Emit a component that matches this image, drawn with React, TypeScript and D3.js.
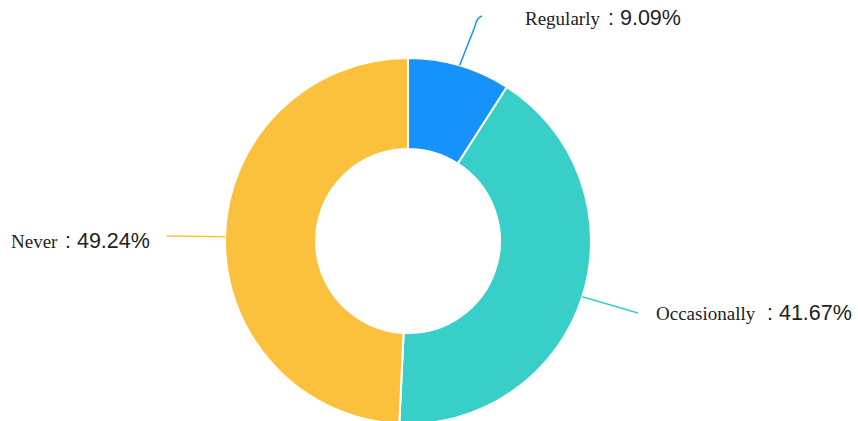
import React from "react";
import * as d3 from "d3";

const categories = ["Regularly", "Occasionally", "Never"];
const values = [9.09, 41.67, 49.24];
const colors = ["#1593FA", "#38CFC8", "#FBC13D"];
// label layout: [nameX, baselineY, colonX]
const labelPos: [number, number, number][] = [
  [525, 25, 608],
  [656, 320, 767],
  [11, 248, 65],
];
const leaderEnd: [number, number][] = [
  [482, 16],
  [638, 313],
  [167, 236],
];

const W = 858;
const H = 421;
const cx = 408;
const cy = 241;
const outerR = 183;
const innerR = 92;

export default function App() {
  const pie = d3
    .pie<number>()
    .sort(null)
    .value((d) => d);
  const arcs = pie(values);
  const arc = d3
    .arc<d3.PieArcDatum<number>>()
    .innerRadius(innerR)
    .outerRadius(outerR);

  return (
    <svg
      width={W}
      height={H}
      style={{ position: "absolute", left: 0, top: 0, background: "#fff" }}
    >
      <g transform={`translate(${cx},${cy})`}>
        {arcs.map((a, i) => (
          <path
            key={i}
            d={arc(a) || ""}
            fill={colors[i]}
            stroke="#fff"
            strokeWidth={2}
          />
        ))}
      </g>
      {arcs.map((a, i) => {
        const mid = (a.startAngle + a.endAngle) / 2;
        const sx = cx + outerR * Math.sin(mid);
        const sy = cy - outerR * Math.cos(mid);
        const [ex, ey] = leaderEnd[i];
        let d: string;
        if (i === 0) {
          const path = d3.path();
          path.moveTo(sx, sy);
          path.lineTo(sx + (ex - sx) * 0.68, sy + (ey - sy) * 0.78);
          path.quadraticCurveTo(ex - 5, ey + 1, ex, ey);
          d = path.toString();
        } else {
          d = `M${sx},${sy}L${ex},${ey}`;
        }
        return (
          <path
            key={"l" + i}
            d={d}
            fill="none"
            stroke={colors[i]}
            strokeWidth={1.5}
          />
        );
      })}
      {categories.map((c, i) => {
        const [nx, by, colonX] = labelPos[i];
        return (
          <text key={"t" + i} y={by}>
            <tspan
              x={nx}
              style={{ fontFamily: "'Liberation Serif', serif", fontSize: 19 }}
              fill="#222"
            >
              {c}
            </tspan>
            <tspan
              x={colonX}
              style={{ fontFamily: "'Liberation Sans', Arial, sans-serif", fontSize: 21.5 }}
              fill="#222"
            >
              {": " + values[i].toFixed(2) + "%"}
            </tspan>
          </text>
        );
      })}
    </svg>
  );
}
